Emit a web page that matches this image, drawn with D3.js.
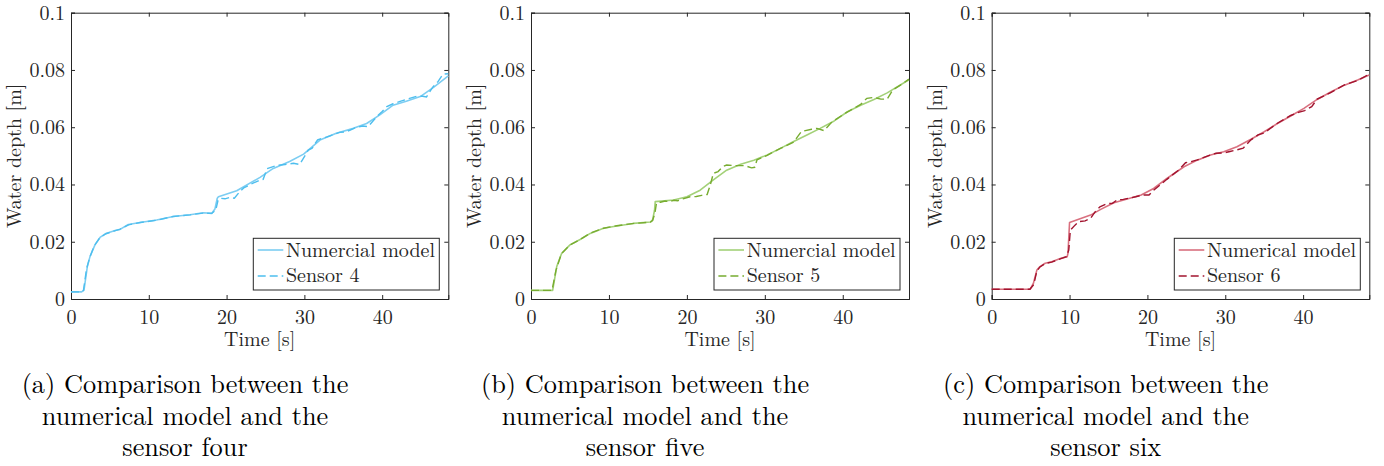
<!DOCTYPE html>
<html><head><meta charset="utf-8">
<script src="https://cdn.jsdelivr.net/npm/d3@7"></script>
<style>
html,body{margin:0;padding:0;background:#fff;}
svg{display:block;}
</style></head>
<body>
<svg id="chart" width="1384" height="466"></svg>
<script>
// ---------- data ----------
const xTicks = [0, 10, 20, 30, 40];
const yTicks = [0, 0.02, 0.04, 0.06, 0.08, 0.1];
const yTickLabels = ["0", "0.02", "0.04", "0.06", "0.08", "0.1"];

// Panel (a) – sensor 4
const modelTimeA = [0,1.37,1.67,2.1,2.44,3.08,3.73,4.5,5.66,6.3,7.37,8.87,11,13.15,15.3,17,18.08,18.5,18.8,18.95,21.3,24.3,26,28.1,29.9,32,34.1,36.3,38,39.7,41.4,43.1,44.9,46.6,48.5];
const modelA = [0.0025,0.0025,0.0031,0.0113,0.0148,0.0189,0.0215,0.0229,0.0239,0.0243,0.026,0.0267,0.0276,0.0288,0.0294,0.0301,0.0299,0.0314,0.0352,0.0357,0.0378,0.0425,0.0456,0.048,0.0506,0.0555,0.0579,0.0596,0.0613,0.0643,0.0677,0.0691,0.0707,0.0739,0.0779];
const sensorTimeA = [0,1.3,1.6,2.0,2.4,3.0,3.7,4.5,5.6,6.3,7.4,8.9,11,13.1,15.3,17,18.1,18.6,18.9,19.2,19.8,20.4,21.0,21.6,22.2,23.2,24.0,24.7,25.2,26.4,27.5,28.6,29.4,30.5,31.0,31.7,32.9,33.3,34.5,35.3,35.9,36.5,37.5,38.2,39.3,40.0,40.6,41.4,42.3,43.4,44.4,45.2,45.7,46.5,47.2,47.8,48.5];
const sensorA = [0.0025,0.0025,0.0030,0.0105,0.0145,0.0186,0.0214,0.0228,0.0238,0.0244,0.0259,0.0267,0.0275,0.0288,0.0294,0.0300,0.0299,0.0310,0.0345,0.0352,0.0350,0.0355,0.0352,0.0372,0.0388,0.0402,0.0412,0.0418,0.0455,0.0466,0.0470,0.0474,0.0470,0.0520,0.0527,0.0556,0.0566,0.0570,0.0582,0.0584,0.0590,0.0598,0.0604,0.0602,0.0637,0.0655,0.0672,0.0682,0.0690,0.0700,0.0708,0.0708,0.0706,0.0740,0.0760,0.0785,0.0787];

// Panel (b) – sensor 5
const modelTimeB = [0,2.78,3.3,3.94,5.0,6.3,7.6,9.3,11,13.15,15.3,15.6,15.85,15.94,18.3,20,21.7,23.4,25.1,26.9,28.6,30.3,32,33.7,35.4,37.1,38.9,40.6,42.3,44,45.7,48.5];
const modelB = [0.003,0.003,0.0113,0.016,0.0189,0.0208,0.0229,0.0247,0.0255,0.0264,0.0269,0.0276,0.031,0.034,0.0346,0.0357,0.038,0.0416,0.045,0.0471,0.0485,0.0503,0.0526,0.055,0.0573,0.0596,0.0622,0.0654,0.0677,0.0697,0.072,0.0766];
const sensorTimeB = [0,2.7,3.2,3.9,5,6.3,7.6,9.3,11,13.2,15.3,15.6,15.9,16.1,16.6,17.2,17.8,18.3,18.8,19.5,20.4,21.2,21.9,22.6,23.0,23.4,24.0,24.6,25.1,26.2,27.4,28.3,28.7,29.0,30.3,32,33.7,34.7,36.0,36.7,37.6,38.6,40.4,42.3,43.1,44.0,44.9,45.7,46.4,47.4,48.5];
const sensorB = [0.003,0.003,0.010,0.0158,0.0189,0.0208,0.0230,0.0247,0.0256,0.0264,0.0268,0.0274,0.030,0.0335,0.0338,0.0342,0.0340,0.0345,0.0343,0.0350,0.0357,0.0358,0.0362,0.0365,0.0398,0.0439,0.0445,0.0462,0.0468,0.0466,0.0466,0.0458,0.0460,0.0486,0.0502,0.0526,0.0548,0.0585,0.0593,0.0596,0.0588,0.0618,0.0650,0.0680,0.0701,0.0704,0.0698,0.0698,0.0730,0.0747,0.0768];

// Panel (c) – sensor 6
const modelTimeC = [0,4.94,5.36,5.8,6.2,6.87,7.7,8.9,9.7,9.8,10.0,12.7,14,15.7,17.4,19.2,20.8,22.5,24.7,26.4,28.1,29.8,31.5,33.3,35,36.7,38.4,40.1,41.8,43.6,45.3,47,48.5];
const modelC = [0.0034,0.0034,0.0055,0.0101,0.0113,0.0125,0.013,0.0142,0.0148,0.016,0.0267,0.0293,0.0313,0.0336,0.0349,0.0363,0.0386,0.0421,0.0462,0.0485,0.0503,0.0514,0.0532,0.0558,0.0584,0.0613,0.0639,0.0666,0.0697,0.0724,0.0747,0.0765,0.0782];
const sensorTimeC = [0,4.9,5.4,5.8,6.2,6.9,7.7,8.9,9.6,9.9,10.1,10.7,11.2,12.0,12.7,13.3,13.9,14.8,15.5,16.1,16.9,17.6,18.5,19.3,20.2,20.8,22.5,24.0,24.9,25.6,26.4,28.1,28.8,29.8,30.6,31.5,32.3,33.3,34.2,35,36.7,38.4,39.4,40.2,41.1,41.8,43.6,45.3,47,47.8,48.5];
const sensorC = [0.0034,0.0034,0.005,0.0098,0.0112,0.0124,0.0129,0.0141,0.0148,0.0171,0.024,0.0258,0.0270,0.0273,0.0282,0.0305,0.0322,0.0333,0.0334,0.0346,0.0348,0.0352,0.0357,0.0363,0.0363,0.0380,0.0418,0.0450,0.0476,0.0480,0.0486,0.0503,0.0509,0.0510,0.0515,0.0521,0.0527,0.0556,0.0573,0.0580,0.0614,0.0641,0.0652,0.0658,0.0672,0.0698,0.0722,0.0748,0.0763,0.0775,0.0786];

const legendModel = ["Numercial model", "Numercial model", "Numerical model"];
const legendSensor = ["Sensor 4", "Sensor 5", "Sensor 6"];
const captions = [
  ["(a) Comparison between the", "numerical model and the", "sensor four"],
  ["(b) Comparison between the", "numerical model and the", "sensor five"],
  ["(c) Comparison between the", "numerical model and the", "sensor six"]
];
const xLabel = "Time [s]";
const yLabel = "Water depth [m]";

// ---------- layout / style ----------
const panels = [
  {left: 71, right: 448.3, modelT: modelTimeA, model: modelA, sensT: sensorTimeA, sens: sensorA, cModel: "#7ccdf2", cSens: "#4DBEEE"},
  {left: 531, right: 909, modelT: modelTimeB, model: modelB, sensT: sensorTimeB, sens: sensorB, cModel: "#a3d178", cSens: "#77AC30"},
  {left: 991.7, right: 1369.3, modelT: modelTimeC, model: modelC, sensT: sensorTimeC, sens: sensorC, cModel: "#d9707f", cSens: "#A2142F"}
];
const plotTop = 12.7, plotBottom = 299;
const axisColor = "#262626";
const FONT = "Latin Modern Roman";

const svg = d3.select("#chart");

function stext(g, x, y, str, size, anchor, rot) {
  return g.append("text")
    .attr("transform", `translate(${x},${y})` + (rot ? ` rotate(${rot})` : ""))
    .attr("text-anchor", anchor)
    .style("font-family", FONT)
    .style("font-size", size + "px")
    .attr("fill", axisColor)
    .text(str);
}

panels.forEach((p, i) => {
  const g = svg.append("g");
  const x = d3.scaleLinear().domain([0, 48.5]).range([p.left, p.right]);
  const y = d3.scaleLinear().domain([0, 0.1]).range([plotBottom, plotTop]);

  // axes
  const fmtY = (d) => yTickLabels[yTicks.indexOf(d)];
  const ax = [
    g.append("g").attr("transform", `translate(0,${plotBottom})`)
      .call(d3.axisBottom(x).tickValues(xTicks).tickSize(-4).tickPadding(11).tickFormat(d3.format("d"))),
    g.append("g").attr("transform", `translate(0,${plotTop})`)
      .call(d3.axisTop(x).tickValues(xTicks).tickSize(-4).tickFormat("")),
    g.append("g").attr("transform", `translate(${p.left},0)`)
      .call(d3.axisLeft(y).tickValues(yTicks).tickSize(-4).tickPadding(6).tickFormat(fmtY)),
    g.append("g").attr("transform", `translate(${p.right},0)`)
      .call(d3.axisRight(y).tickValues(yTicks).tickSize(-4).tickFormat(""))
  ];
  ax.forEach(a => {
    a.attr("font-family", FONT).attr("font-size", 20);
    a.select(".domain").attr("stroke", axisColor).attr("stroke-width", 1);
    a.selectAll(".tick line").attr("stroke", axisColor).attr("stroke-width", 1);
    a.selectAll(".tick text").style("font-family", FONT).style("font-size", "20px").attr("fill", axisColor);
  });

  // lines
  const line = d3.line().x(d => x(d[0])).y(d => y(d[1]));
  const mData = p.modelT.map((t, k) => [t, p.model[k]]);
  const sData = p.sensT.map((t, k) => [t, p.sens[k]]);
  g.append("path").datum(mData).attr("d", line).attr("fill", "none")
    .attr("stroke", p.cModel).attr("stroke-width", 1.6).attr("stroke-linejoin", "round");
  g.append("path").datum(sData).attr("d", line).attr("fill", "none")
    .attr("stroke", p.cSens).attr("stroke-width", 1.4).attr("stroke-dasharray", "8,4");

  // axis labels
  stext(g, (p.left + p.right) / 2, 346, xLabel, 20, "middle");
  stext(g, p.left - 50, (plotTop + plotBottom) / 2, yLabel, 20, "middle", -90);

  // legend
  const lx = p.right - 195, ly = plotBottom - 60.7;
  g.append("rect").attr("x", lx).attr("y", ly).attr("width", 186).attr("height", 51.7)
    .attr("fill", "#fff").attr("stroke", axisColor).attr("stroke-width", 1);
  g.append("line").attr("x1", lx + 4.4).attr("x2", lx + 30).attr("y1", ly + 11.7).attr("y2", ly + 11.7)
    .attr("stroke", p.cModel).attr("stroke-width", 1.6);
  g.append("line").attr("x1", lx + 4.4).attr("x2", lx + 30).attr("y1", ly + 37.7).attr("y2", ly + 37.7)
    .attr("stroke", p.cSens).attr("stroke-width", 1.4).attr("stroke-dasharray", "8,4");
  stext(g, lx + 32.7, ly + 18.4, legendModel[i], 20, "start");
  stext(g, lx + 32.7, ly + 43.7, legendSensor[i], 20, "start");

  // caption
  const cx = p.left + 114;
  [393, 425, 456].forEach((by, k) => {
    stext(g, cx, by, captions[i][k], 26.3, "middle").attr("fill", "#000");
  });
});
</script>
</body></html>
